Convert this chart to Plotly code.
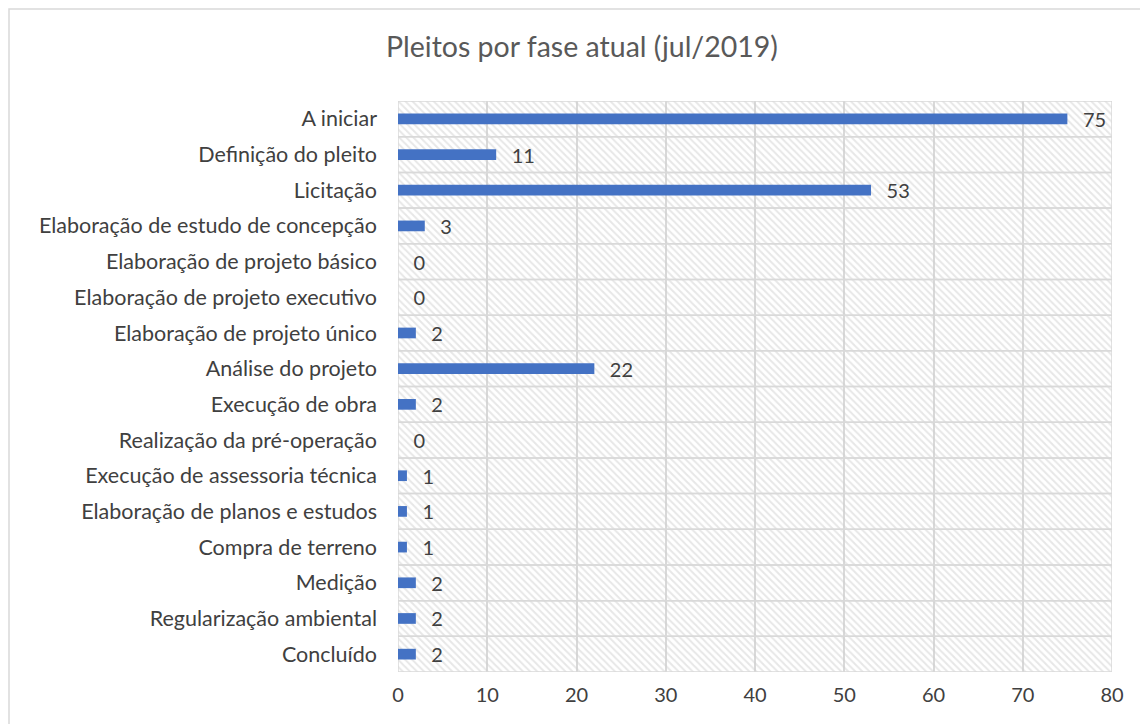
import plotly.graph_objects as go

categories = [
    "A iniciar",
    "Definição do pleito",
    "Licitação",
    "Elaboração de estudo de concepção",
    "Elaboração de projeto básico",
    "Elaboração de projeto executivo",
    "Elaboração de projeto único",
    "Análise do projeto",
    "Execução de obra",
    "Realização da pré-operação",
    "Execução de assessoria técnica",
    "Elaboração de planos e estudos",
    "Compra de terreno",
    "Medição",
    "Regularização ambiental",
    "Concluído",
]
values = [75, 11, 53, 3, 0, 0, 2, 22, 2, 0, 1, 1, 1, 2, 2, 2]
x_ticks = [0, 10, 20, 30, 40, 50, 60, 70, 80]

OFF = 8  # page body offset
W, H = 1148, 724
L, R, T, B = 398 - OFF, 1112 - OFF, 101 - OFF, 672 - OFF

positions = list(range(len(categories)))
font_family = "Lato, Open Sans, Noto Sans, sans-serif"

fig = go.Figure()

# hatched background rows
fig.add_trace(go.Bar(
    x=[80] * len(categories), y=positions, orientation="h", width=1,
    base=0,
    marker=dict(
        color="rgba(0,0,0,0)",
        line=dict(color="#d9d9d9", width=1.5),
        pattern=dict(shape="\\", fgcolor="#cfcfcf", bgcolor="rgba(255,255,255,0)",
                     size=5, solidity=0.4, fillmode="overlay"),
    ),
    hoverinfo="skip", showlegend=False,
))

fig.add_trace(go.Bar(
    x=values, y=positions, orientation="h", width=0.3,
    marker=dict(color="#4472C4", line=dict(width=0)),
    text=["\u2002\u2009" + str(v) for v in values], textposition="outside",
    constraintext="none",
    textfont=dict(size=20, color="#404040", family=font_family),
    cliponaxis=False, showlegend=False,
))

fig.update_layout(
    width=W, height=H,
    margin=dict(l=L, r=W - R, t=T, b=H - B),
    barmode="overlay",
    paper_bgcolor="white", plot_bgcolor="white",
    title=dict(text="Pleitos por fase atual (jul/2019)", x=0.5, xref="container",
               xanchor="center", y=1 - (47 - OFF) / H, yanchor="middle",
               font=dict(size=28.5, color="#595959", family=font_family)),
    font=dict(family=font_family, color="#404040"),
    xaxis=dict(range=[0, 80], tickvals=x_ticks, showgrid=True, gridcolor="#d9d9d9",
               gridwidth=1.5, zeroline=False, showline=False,
               tickfont=dict(size=20, color="#404040"), ticks="", ticklabelstandoff=9),
    yaxis=dict(range=[len(categories) - 0.5, -0.5], tickvals=positions, ticktext=categories,
               showgrid=False, zeroline=False, showline=False, ticks="",
               tickfont=dict(size=21.5, color="#404040"), ticklabelstandoff=20),
    shapes=[dict(type="rect", xref="paper", yref="paper",
                 x0=(1 - L) / (R - L), x1=(1170 - L) / (R - L),
                 y0=-(760 - B) / (B - T), y1=1 + (T - 1) / (B - T),
                 line=dict(color="#d9d9d9", width=1.5), fillcolor="rgba(0,0,0,0)",
                 layer="below")],
)

fig.write_html("out.html")
